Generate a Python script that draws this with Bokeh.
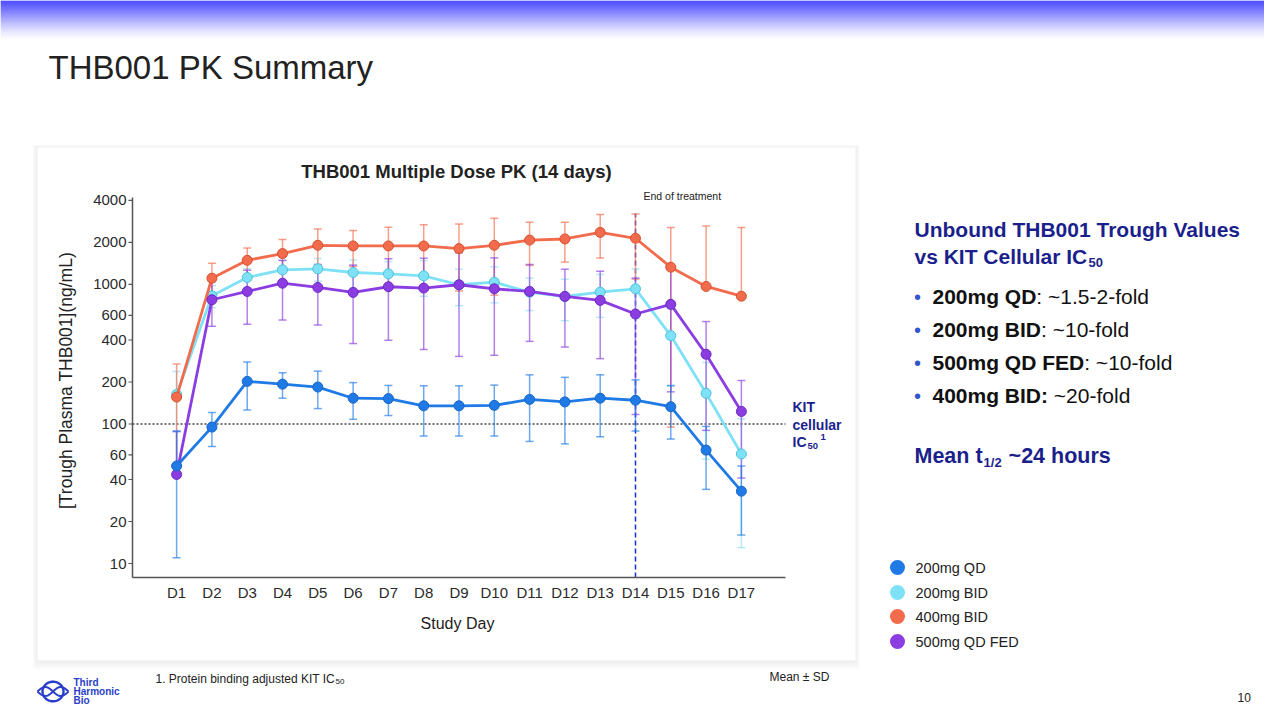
import math
import numpy as np
from bokeh.plotting import figure
from bokeh.models import Range1d, LogScale
from bokeh.core.properties import value
from bokeh.embed import file_html
from bokeh.resources import INLINE

# ---------------- data ----------------
days = ["D1", "D2", "D3", "D4", "D5", "D6", "D7", "D8", "D9", "D10",
        "D11", "D12", "D13", "D14", "D15", "D16", "D17"]
day_num = list(range(1, 18))

qd200_mean = [50, 95, 202, 193, 184, 153, 152, 135, 135, 136, 150, 144, 153, 148, 133, 65, 33]
qd200_sd = [39, 26, 76, 40, 55, 45, 37, 53, 53, 54, 75, 72, 72, 59, 55, 31, 17]

bid200_mean = [163, 830, 1122, 1273, 1295, 1218, 1192, 1153, 995, 1038, 880, 820, 881, 931, 430, 166, 61]
bid200_sd = [75, 150, 175, 220, 240, 280, 267, 330, 290, 300, 230, 270, 300, 360, 240, 110, 48]

bid400_mean = [156, 1109, 1489, 1664, 1909, 1889, 1889, 1889, 1807, 1909, 2080, 2118, 2362, 2143, 1330, 968, 824]
bid400_sd = [113, 310, 339, 432, 590, 543, 678, 793, 910, 1070, 709, 671, 815, 1050, 1235, 1658, 1741]

fed500_mean = [43.5, 777, 891, 1021, 952, 877, 963, 942, 995, 931, 891, 821, 769, 614, 720, 316, 123]
fed500_sd = [45, 275, 372, 465, 440, 500, 565, 600, 690, 620, 500, 465, 475, 497, 550, 226, 82]

series_names = ["200mg QD", "200mg BID", "400mg BID", "500mg QD FED"]
y_ticks = [10, 20, 40, 60, 100, 200, 400, 600, 1000, 2000, 4000]
kit_ic50 = 100
end_of_treatment_day = 14

# ---------------- styles ----------------
FONT = value("Liberation Sans")
NAVY = "#1b1f8c"
TXT = "#222222"
COL = {
    "200mg QD": ("#1f7ae6", "#1766c8"),
    "200mg BID": ("#7fe1f6", "#4fc3dc"),
    "400mg BID": ("#f26b4c", "#d5522f"),
    "500mg QD FED": ("#8b3de2", "#6e28c4"),
}

W, H = 1264, 704

p = figure(width=W, height=H, x_range=Range1d(0, W), y_range=Range1d(H, 0),
           output_backend="svg", toolbar_location=None, x_axis_type=None, y_axis_type=None,
           min_border=0)
p.outline_line_color = None
p.background_fill_color = "white"
p.border_fill_color = "white"

# chart plot box (px) and data limits
BL, BR, BT, BB = 132, 785, 197, 577
XMIN, XMAX = -0.25, 18.25
YMIN, YMAX = 7.94, 4200
sx = (BR - BL) / (XMAX - XMIN)
ly = (BB - BT) / (math.log10(YMAX) - math.log10(YMIN))
day_lo = XMIN + (0 - BL) / sx
day_hi = XMIN + (W - BL) / sx
c_lo = 10 ** (math.log10(YMIN) - (H - BB) / ly)
c_hi = 10 ** (math.log10(YMIN) + (BB - 0) / ly)
p.extra_x_ranges = {"day": Range1d(day_lo, day_hi)}
p.extra_y_ranges = {"conc": Range1d(c_lo, c_hi)}
p.extra_y_scales = {"conc": LogScale()}


def txt(x, y, s, size, color=TXT, bold=False, align="left", baseline="middle", angle=0.0,
        xr="default", yr="default"):
    p.text(x=[x], y=[y], text=[s], text_font=FONT, text_font_size=size,
           text_font_style="bold" if bold else "normal", text_color=color,
           text_align=align, text_baseline=baseline, angle=angle,
           x_range_name=xr, y_range_name=yr)


ARIAL_R = {" ": 278, ":": 278, "~": 584, ".": 278, "-": 333, "f": 278, "o": 556, "l": 222,
           "d": 556, "M": 833, "e": 556, "a": 556, "n": 556, "t": 278}
ARIAL_B = {" ": 278, ":": 333, "m": 889, "g": 611, "Q": 778, "D": 722, "B": 722, "I": 278,
           "F": 611, "E": 667, "M": 833, "e": 556, "a": 556, "n": 611, "t": 333}


def width(s, table, size):
    return sum(table.get(ch, 556) for ch in s) * size / 1000.0


# ---------------- decoration ----------------
tops, bots, alphas = [], [], []
for i in range(0, 40):
    tops.append(i)
    bots.append(i + 1)
    alphas.append(max(0.0, (1 - i / 40.0)) ** 1.5)
p.quad(left=0, right=W, top=tops, bottom=bots, fill_color="#1414ff", fill_alpha=alphas,
       line_color=None)

# card shadow + card
for k in range(1, 10):
    p.quad(left=37 - k * 0.6, right=855 + k * 0.5, top=147 - k * 0.3, bottom=660 + k,
           fill_color="#000000", fill_alpha=0.009, line_color=None)
p.quad(left=37, right=855, top=147, bottom=660, fill_color="white", line_color=None)

txt(48, 67, "THB001 PK Summary", "33px")
txt(456, 171, "THB001 Multiple Dose PK (14 days)", "18.5px", bold=True, align="center")

# ---------------- chart ----------------
p.segment(x0=[XMIN], x1=[XMAX], y0=[kit_ic50], y1=[kit_ic50], line_color="#444444",
          line_width=1.3, line_dash="2 2", x_range_name="day", y_range_name="conc")
p.segment(x0=[end_of_treatment_day], x1=[end_of_treatment_day], y0=[YMIN], y1=[3230],
          line_color="#1a2bd6", line_width=1.5, line_dash="5 3",
          x_range_name="day", y_range_name="conc")
txt(643, 195, "End of treatment", "10.5px")

# axes
p.segment(x0=[BL, BL], y0=[BT, BB], x1=[BL, BR], y1=[BB, BB], line_color="#555555", line_width=1.5)
p.segment(x0=[BL - 4] * len(y_ticks), x1=[BL] * len(y_ticks), y0=y_ticks, y1=y_ticks,
          line_color="#555555", line_width=1.2, y_range_name="conc")
for v in y_ticks:
    txt(126, v, str(v), "15px", color="#2a2a2a", align="right", yr="conc")
for d, lab in zip(day_num, days):
    txt(d, 592, lab, "15px", color="#2a2a2a", align="center", xr="day")
txt(457, 623, "Study Day", "16px", align="center")
txt(65, 380, "[Trough Plasma THB001](ng/mL)", "17.5px", align="center", angle=math.pi / 2)

# error bars
CAP = 4.0 / sx
all_series = [
    ("200mg BID", bid200_mean, bid200_sd),
    ("400mg BID", bid400_mean, bid400_sd),
    ("500mg QD FED", fed500_mean, fed500_sd),
    ("200mg QD", qd200_mean, qd200_sd),
]
for name, mean, sd in all_series:
    c = COL[name][0] if name != "200mg BID" else "#8fdff0"
    x0, y0, y1, cx0, cx1, cy = [], [], [], [], [], []
    for d, m, s in zip(day_num, mean, sd):
        up = m + s
        lo = m - s
        x0.append(d)
        y1.append(up)
        cx0.append(d - CAP); cx1.append(d + CAP); cy.append(up)
        if lo > 0:
            y0.append(lo)
            cx0.append(d - CAP); cx1.append(d + CAP); cy.append(lo)
        else:
            y0.append(m)
    p.segment(x0=x0, x1=x0, y0=y0, y1=y1, line_color=c, line_alpha=0.65, line_width=1.5,
              x_range_name="day", y_range_name="conc")
    p.segment(x0=cx0, x1=cx1, y0=cy, y1=cy, line_color=c, line_alpha=0.65, line_width=1.5,
              x_range_name="day", y_range_name="conc")

for name, mean, sd in all_series:
    fill, edge = COL[name]
    p.line(x=day_num, y=mean, line_color=fill, line_width=2.8,
           x_range_name="day", y_range_name="conc")
    p.scatter(x=day_num, y=mean, size=10, fill_color=fill, line_color=edge, line_width=1,
              x_range_name="day", y_range_name="conc")

# KIT annotation
txt(792, 406, "KIT", "14px", color=NAVY, bold=True)
txt(792, 424, "cellular", "14px", color=NAVY, bold=True)
txt(792, 441, "IC", "14px", color=NAVY, bold=True)
txt(807, 445, "50", "9.5px", color=NAVY, bold=True)
txt(820, 436, "1", "9.5px", color=NAVY, bold=True)

# ---------------- right-hand text ----------------
txt(914, 229, "Unbound THB001 Trough Values", "21px", color=NAVY, bold=True)
txt(914, 256, "vs KIT Cellular IC", "21px", color=NAVY, bold=True)
txt(1088, 262, "50", "13px", color=NAVY, bold=True)

bullets = [("200mg QD", ": ~1.5-2-fold"), ("200mg BID", ": ~10-fold"),
           ("500mg QD FED", ": ~10-fold"), ("400mg BID:", " ~20-fold")]
for i, (b, r) in enumerate(bullets):
    yy = 296 + i * 33
    txt(917, yy, "\u2022", "20px", color="#3355cc", align="center")
    txt(932, yy, b, "21px", color="#111111", bold=True)
    lead = len(r) - len(r.lstrip(" "))
    txt(932 + width(b, ARIAL_B, 21) + lead * 0.278 * 21, yy, r.lstrip(" "), "21px", color="#111111")

mt_w = width("Mean t", ARIAL_B, 21.5)
txt(914, 455, "Mean t", "21.5px", color=NAVY, bold=True)
txt(914 + mt_w + 1, 462, "1/2", "13px", color=NAVY, bold=True)
txt(914 + mt_w + 1 + 20 + 5, 455, "~24 hours", "21.5px", color=NAVY, bold=True)

# legend
leg_y = [567, 592, 616, 641]
p.scatter(x=[897] * 4, y=leg_y, size=15, fill_color=[COL[n][0] for n in series_names],
          line_color=None)
for n, yy in zip(series_names, leg_y):
    txt(915, yy, n, "14.5px")

# footnotes
txt(155, 678, "1.  Protein binding adjusted KIT IC", "12px")
txt(335, 681, "50", "8px")
txt(769, 676, "Mean \u00b1 SD", "12px")
txt(1237, 697, "10", "12px")

# logo
th = np.linspace(0, 2 * np.pi, 60)
LCY = 691
p.line(x=list(52.5 + 10.5 * np.cos(th)), y=list(LCY + 9.8 * np.sin(th)),
       line_color="#2a3fc9", line_width=2.4)
wx = np.linspace(37, 68, 60)
for sgn in (1, -1):
    p.line(x=list(wx), y=list(LCY + sgn * 4.5 * np.sin((wx - 37) / 31 * 2 * np.pi)),
           line_color="#2a3fc9", line_width=2.0)
txt(73, 682, "Third", "10px", color="#2a3fc9", bold=True)
txt(73, 691, "Harmonic", "10px", color="#2a3fc9", bold=True)
txt(73, 699.5, "Bio", "10px", color="#2a3fc9", bold=True)

open("out.html", "w").write(file_html(p, INLINE))
